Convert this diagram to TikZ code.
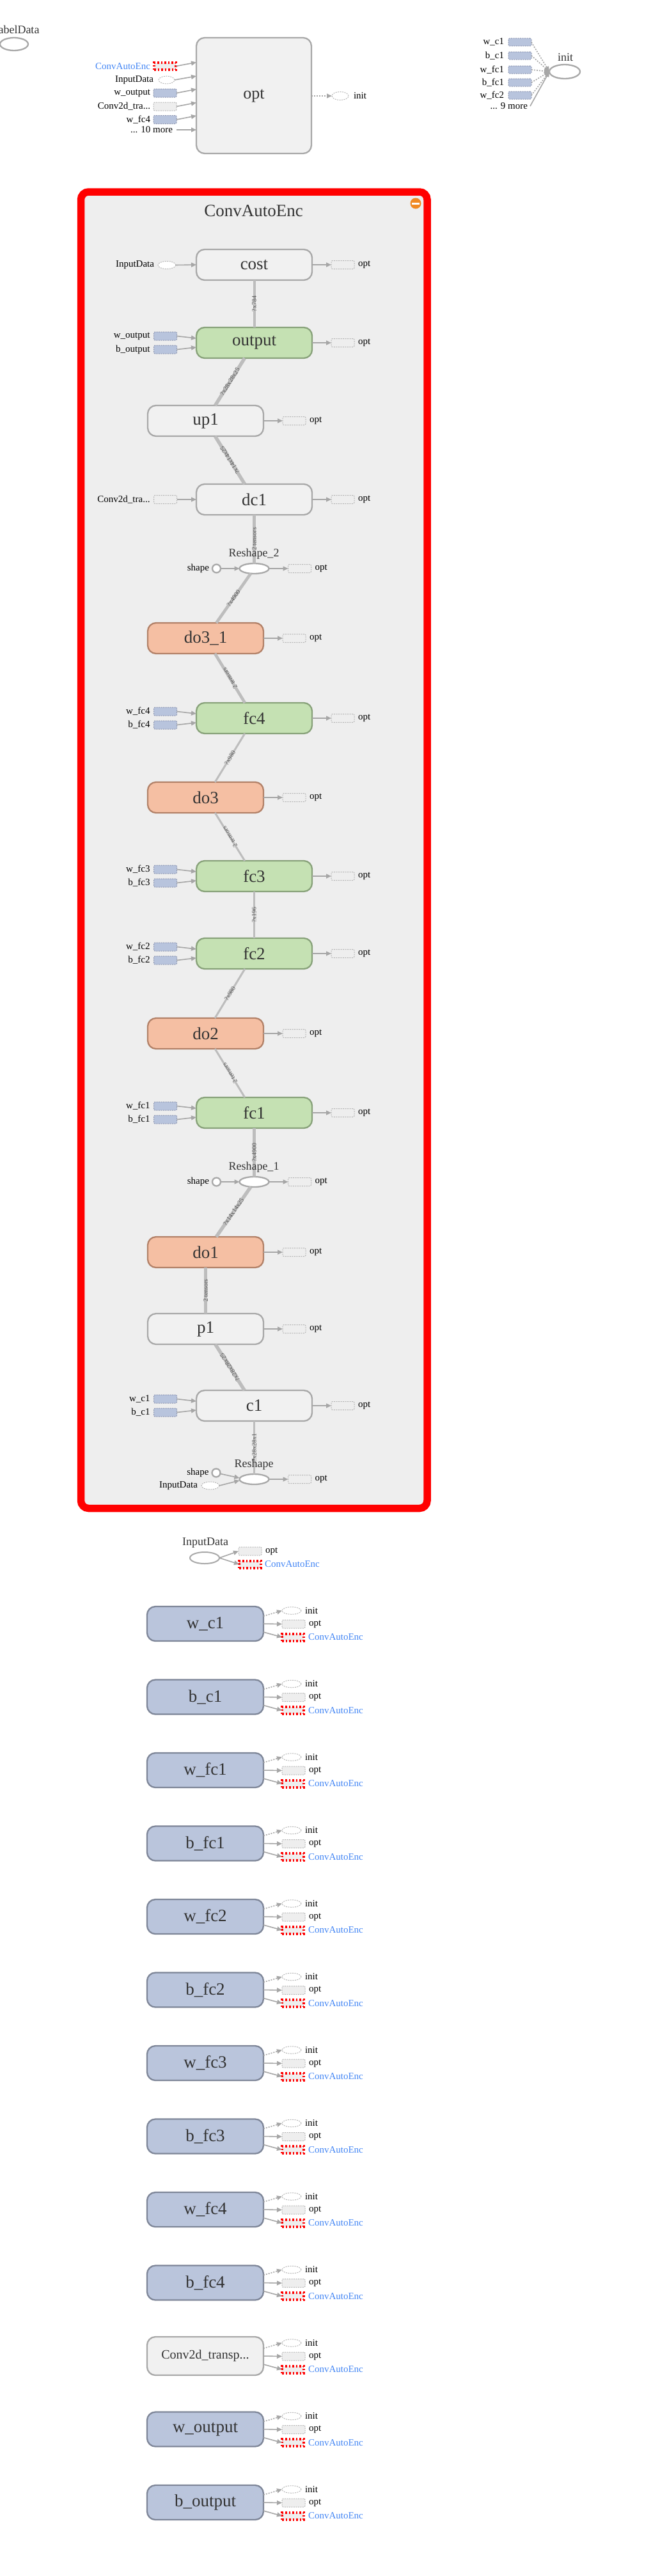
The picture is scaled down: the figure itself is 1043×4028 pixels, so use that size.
\documentclass[tikz,border=0pt]{standalone}
\usepackage{fontspec}
\setmainfont{Liberation Serif}
\usetikzlibrary{shapes.geometric,arrows.meta,calc}
\definecolor{nodetxt}{HTML}{333333}
\definecolor{bggray}{HTML}{EEEEEE}
\definecolor{nodegray}{HTML}{F1F1F1}
\definecolor{nodeborder}{HTML}{A8A8A8}
\definecolor{flowgray}{HTML}{BDBDBD}
\definecolor{arrgray}{HTML}{A6A6A6}
\definecolor{dashgray}{HTML}{B4B4B4}
\definecolor{bluefill}{HTML}{B8C4DD}
\definecolor{bluedash}{HTML}{8A93AE}
\definecolor{bluenode}{HTML}{BAC5DC}
\definecolor{blueborder}{HTML}{7E8698}
\definecolor{greenfill}{HTML}{C5E1B3}
\definecolor{greenborder}{HTML}{88A27A}
\definecolor{orangefill}{HTML}{F5BFA3}
\definecolor{orangeborder}{HTML}{B28168}
\definecolor{linkblue}{HTML}{4285F4}
\definecolor{elabgray}{HTML}{555555}
\definecolor{iconorange}{HTML}{F08A24}
\newcommand\fsz[1]{\fontsize{#1}{#1}\selectfont}
\newcommand\convlbl{Conv2d\_transp...}
\newcommand\wbin[3]{%
  \node[bluerect] (#1w) at ($(#1.west)+(-48.5,-10.5)$) {};
  \node[bluerect] (#1b) at ($(#1.west)+(-48.5,10.5)$) {};
  \node[smalltxt,anchor=east] at ($(#1w.west)+(-6,0)$) {#2};
  \node[smalltxt,anchor=east] at ($(#1b.west)+(-6,0)$) {#3};
  \draw[arr] (#1w.east) -- ($(#1.west)+(0,-7)$);
  \draw[arr] (#1b.east) -- ($(#1.west)+(0,7)$);}
\newcommand\optout[1]{%
  \node[optrect] (#1o) at ($(#1.east)+(48,0)$) {};
  \node[smalltxt,anchor=west] at ($(#1o.east)+(6,0)$) {opt};
  \draw[arr] (#1.east) -- (#1o.west);}
\newcommand\shapein[1]{%
  \node[shapec] (#1s) at ($(#1.center)+(-59,0)$) {};
  \node[smalltxt,anchor=east] at ($(#1s.west)+(-5,0)$) {shape};
  \draw[arr] (#1s) -- (#1);}
\begin{document}
\begin{tikzpicture}[x=1pt,y=-1pt,
  every node/.style={inner sep=0pt,outer sep=0pt},
  opbase/.style={rectangle,rounded corners=13pt,minimum width=181pt,minimum height=48pt,line width=2.3pt,text=nodetxt,font=\fsz{27}},
  opgray/.style={opbase,draw=nodeborder,fill=nodegray},
  opgreen/.style={opbase,draw=greenborder,fill=greenfill},
  oporange/.style={opbase,draw=orangeborder,fill=orangefill},
  opblue/.style={opbase,draw=blueborder,fill=bluenode,minimum width=182pt,minimum height=54pt},
  opconv/.style={opbase,draw=nodeborder,fill=nodegray,minimum width=182pt,minimum height=60pt,font=\fsz{20}},
  optrect/.style={rectangle,minimum width=36pt,minimum height=13pt,draw=dashgray,dash pattern=on 2pt off 1.5pt,line width=1pt,fill=bggray,rounded corners=2pt},
  bluerect/.style={optrect,draw=bluedash,fill=bluefill},
  redrect/.style={rectangle,minimum width=34pt,minimum height=11pt,draw=red,line width=4pt,dash pattern=on 2.5pt off 3pt,fill=bggray},
  dellipse/.style={ellipse,minimum width=28pt,minimum height=12pt,draw=dashgray,dash pattern=on 2pt off 1.5pt,line width=1pt,fill=white},
  rsell/.style={ellipse,minimum width=46pt,minimum height=16pt,draw=nodeborder,line width=2.3pt,fill=white},
  shapec/.style={circle,minimum size=13pt,draw=nodeborder,line width=2.3pt,fill=white},
  smalltxt/.style={font=\fsz{15},text=black},
  lbltxt/.style={font=\fsz{18},text=nodetxt},
  elabel/.style={font=\fsz{10},text=elabgray,sloped,allow upside down,midway},
  dflow/.style={draw=flowgray},
  arr/.style={draw=arrgray,line width=1.6pt,-{Triangle[length=8pt,width=7pt]}},
  darr/.style={arr,dash pattern=on 2pt off 2pt}
]
\useasboundingbox (0,0) rectangle (1043,4028);

% ---------- top section ----------
\node[lbltxt] (ldlbl) at (24,46) {LabelData};
\node[ellipse,minimum width=44pt,minimum height=20pt,draw=nodeborder,line width=2.3pt,fill=white] (labeldata) at (22,69) {};

\node[opgray,minimum width=180pt,minimum height=181pt,font=\fsz{26}] (optbig) at (397,149.5) {opt};
\node[redrect] (tcae) at (258,103.5) {};
\node[smalltxt,text=linkblue,anchor=east] at ($(tcae.west)+(-6,0)$) {ConvAutoEnc};
\node[dellipse,minimum width=25pt,minimum height=12pt] (tin) at (260.5,125) {};
\node[smalltxt,anchor=east] at ($(tin.west)+(-8,0)$) {InputData};
\node[bluerect] (twout) at (258,145.5) {};
\node[smalltxt,anchor=east] at ($(twout.west)+(-5,0)$) {w\_output};
\node[optrect] (tconv) at (258,166.5) {};
\node[smalltxt,anchor=east] at ($(tconv.west)+(-5,0)$) {Conv2d\_tra...};
\node[bluerect] (twfc4) at (258,187) {};
\node[smalltxt,anchor=east] at ($(twfc4.west)+(-5,0)$) {w\_fc4};
\node[smalltxt,anchor=east] (tmore) at (270,203) {... 10 more};
\foreach \n in {tcae,tin,twout,tconv,twfc4}
  \draw[arr] (\n.east) -- ($(\n.east -| optbig.west)+(0,-6)$);
\draw[arr] ($(tmore.east)+(6,0)$) -- (tmore.east -| optbig.west);
\node[dellipse,minimum width=26pt,minimum height=13pt,fill=none] (tinit) at (532,150) {};
\node[smalltxt,anchor=west] at ($(tinit.east)+(8,0)$) {init};
\draw[darr] (optbig.east |- tinit) -- (tinit.west);

% top right init group
\node[lbltxt] (initlbl) at (884,90) {init};
\node[ellipse,minimum width=48pt,minimum height=22pt,draw=nodeborder,line width=2.3pt,fill=white] (initE) at (883,112) {};
\foreach \lab/\yy [count=\k] in {w\_c1/66,b\_c1/87,w\_fc1/109,b\_fc1/129,w\_fc2/149}{
  \node[bluerect,minimum height=12pt] (ir\k) at (813,\yy) {};
  \node[smalltxt,anchor=east] at ($(ir\k.west)+(-7,0)$) {\lab};
  \draw[darr] (ir\k.east) -- (initE.west);
}
\node[smalltxt,anchor=east] (more9) at (825,166) {... 9 more};
\draw[arr] ($(more9.east)+(4,0)$) -- (initE.west);

% ---------- ConvAutoEnc group ----------
\draw[draw=red,line width=11.5pt,fill=bggray,rounded corners=12pt] (126.5,300) rectangle (668,2358.5);
\node[font=\fsz{27},text=nodetxt] (title) at (396.5,330) {ConvAutoEnc};
\fill[iconorange] (650,318) circle[radius=8.5pt];
\fill[white] (644,316.5) rectangle (656,319.5);

\node[opgray] (cost) at (397.5,414) {cost};
\node[opgreen] (output) at (397.5,536) {output};
\node[opgray] (up1) at (321.5,658) {up1};
\node[opgray] (dc1) at (397.5,781) {dc1};
\node[rsell] (rs2) at (397.5,889) {};
\node[oporange] (do31) at (321.5,998) {do3\_1};
\node[opgreen] (fc4) at (397.5,1123) {fc4};
\node[oporange] (do3) at (321.5,1247) {do3};
\node[opgreen] (fc3) at (397.5,1370) {fc3};
\node[opgreen] (fc2) at (397.5,1491) {fc2};
\node[oporange] (do2) at (321.5,1616) {do2};
\node[opgreen] (fc1) at (397.5,1740) {fc1};
\node[rsell] (rs1) at (397.5,1848) {};
\node[oporange] (do1) at (321.5,1958) {do1};
\node[opgray] (p1) at (321.5,2078) {p1};
\node[opgray] (c1) at (397.5,2198) {c1};
\node[rsell] (rs) at (397.5,2313) {};

\draw[dflow,line width=4pt] (output) -- (cost) node[elabel]{?x784};
\draw[dflow,line width=5.4pt] (up1) -- (output) node[elabel]{?x28x28x25};
\draw[dflow,line width=5.4pt] (dc1) -- (up1) node[elabel]{?x14x14x25};
\draw[dflow,line width=5.4pt] (rs2) -- (dc1) node[elabel]{2 tensors};
\draw[dflow,line width=4.6pt] (do31) -- (rs2) node[elabel]{?x4900};
\draw[dflow,line width=4.6pt] (fc4) -- (do31) node[elabel]{2 tensors};
\draw[dflow,line width=3pt] (do3) -- (fc4) node[elabel]{?x980};
\draw[dflow,line width=3pt] (fc3) -- (do3) node[elabel]{2 tensors};
\draw[dflow,line width=3pt] (fc2) -- (fc3) node[elabel]{?x196};
\draw[dflow,line width=3pt] (do2) -- (fc2) node[elabel]{?x980};
\draw[dflow,line width=3pt] (fc1) -- (do2) node[elabel]{2 tensors};
\draw[dflow,line width=4.6pt] (rs1) -- (fc1) node[elabel]{?x4900};
\draw[dflow,line width=5.4pt] (do1) -- (rs1) node[elabel]{?x14x14x25};
\draw[dflow,line width=5.4pt] (p1) -- (do1) node[elabel]{2 tensors};
\draw[dflow,line width=5.4pt] (c1) -- (p1) node[elabel]{?x28x28x25};
\draw[dflow,line width=3pt] (rs) -- (c1) node[elabel]{?x28x28x1};

\node[lbltxt] at (397,866) {Reshape\_2};
\node[lbltxt] at (397,1825) {Reshape\_1};
\node[lbltxt] at (397,2290) {Reshape};

% inputs
\node[dellipse] (costin) at (261,414.5) {};
\node[smalltxt,anchor=east] at ($(costin.west)+(-6,0)$) {InputData};
\draw[arr] (costin.east) -- (cost.west);
\wbin{output}{w\_output}{b\_output}
\node[optrect] (dc1in) at (258.5,781) {};
\node[smalltxt,anchor=east] at ($(dc1in.west)+(-6,0)$) {Conv2d\_tra...};
\draw[arr] (dc1in.east) -- (dc1.west);
\shapein{rs2}
\wbin{fc4}{w\_fc4}{b\_fc4}
\wbin{fc3}{w\_fc3}{b\_fc3}
\wbin{fc2}{w\_fc2}{b\_fc2}
\wbin{fc1}{w\_fc1}{b\_fc1}
\shapein{rs1}
\wbin{c1}{w\_c1}{b\_c1}
\node[shapec] (rss) at (338,2303) {};
\node[smalltxt,anchor=east] at ($(rss.west)+(-5,0)$) {shape};
\node[dellipse] (rsin) at (329,2323) {};
\node[smalltxt,anchor=east] at ($(rsin.west)+(-6,0)$) {InputData};
\draw[arr] (rss) -- ($(rs.west)+(0,-2)$);
\draw[arr] (rsin.east) -- ($(rs.west)+(0,2)$);

% outputs to opt
\foreach \n in {cost,output,up1,dc1,rs2,do31,fc4,do3,fc3,fc2,do2,fc1,rs1,do1,p1,c1,rs}
  {\optout{\n}}

% ---------- lower list ----------
\node[lbltxt] at (321,2412) {InputData};
\node[ellipse,minimum width=46pt,minimum height=18pt,draw=nodeborder,line width=2pt,fill=white] (lin) at (320,2436) {};
\node[optrect] (lino) at (391,2425.5) {};
\node[redrect] (linr) at (391,2446) {};
\node[smalltxt,anchor=west] at ($(lino.east)+(6,0)$) {opt};
\node[smalltxt,text=linkblue,anchor=west] at ($(linr.east)+(6,0)$) {ConvAutoEnc};
\draw[arr] (lin.east) -- (lino.west);
\draw[arr] (lin.east) -- (linr.west);

\foreach \lab/\sty [count=\i from 0] in {w\_c1/opblue,b\_c1/opblue,w\_fc1/opblue,b\_fc1/opblue,w\_fc2/opblue,b\_fc2/opblue,w\_fc3/opblue,b\_fc3/opblue,w\_fc4/opblue,b\_fc4/opblue,\convlbl/opconv,w\_output/opblue,b\_output/opblue}{
  \node[\sty] (v\i) at (321,{2539+114.5*\i}) {\lab};
  \node[dellipse,minimum width=30pt,minimum height=11.5pt,fill=none] (vi\i) at ($(v\i.center)+(135,-20.5)$) {};
  \node[optrect] (vo\i) at ($(v\i.center)+(138,0.5)$) {};
  \node[redrect] (vr\i) at ($(v\i.center)+(137,21)$) {};
  \node[smalltxt,anchor=west] at ($(vi\i.east)+(6,0)$) {init};
  \node[smalltxt,anchor=west] at ($(vo\i.east)+(6,0)$) {opt};
  \node[smalltxt,text=linkblue,anchor=west] at ($(vr\i.east)+(7,0)$) {ConvAutoEnc};
  \draw[darr] ($(v\i.east)+(0,-12)$) -- (vi\i.west);
  \draw[arr] (v\i.east) -- (vo\i.west);
  \draw[arr] ($(v\i.east)+(0,13)$) -- (vr\i.west);
}
\end{tikzpicture}
\end{document}
